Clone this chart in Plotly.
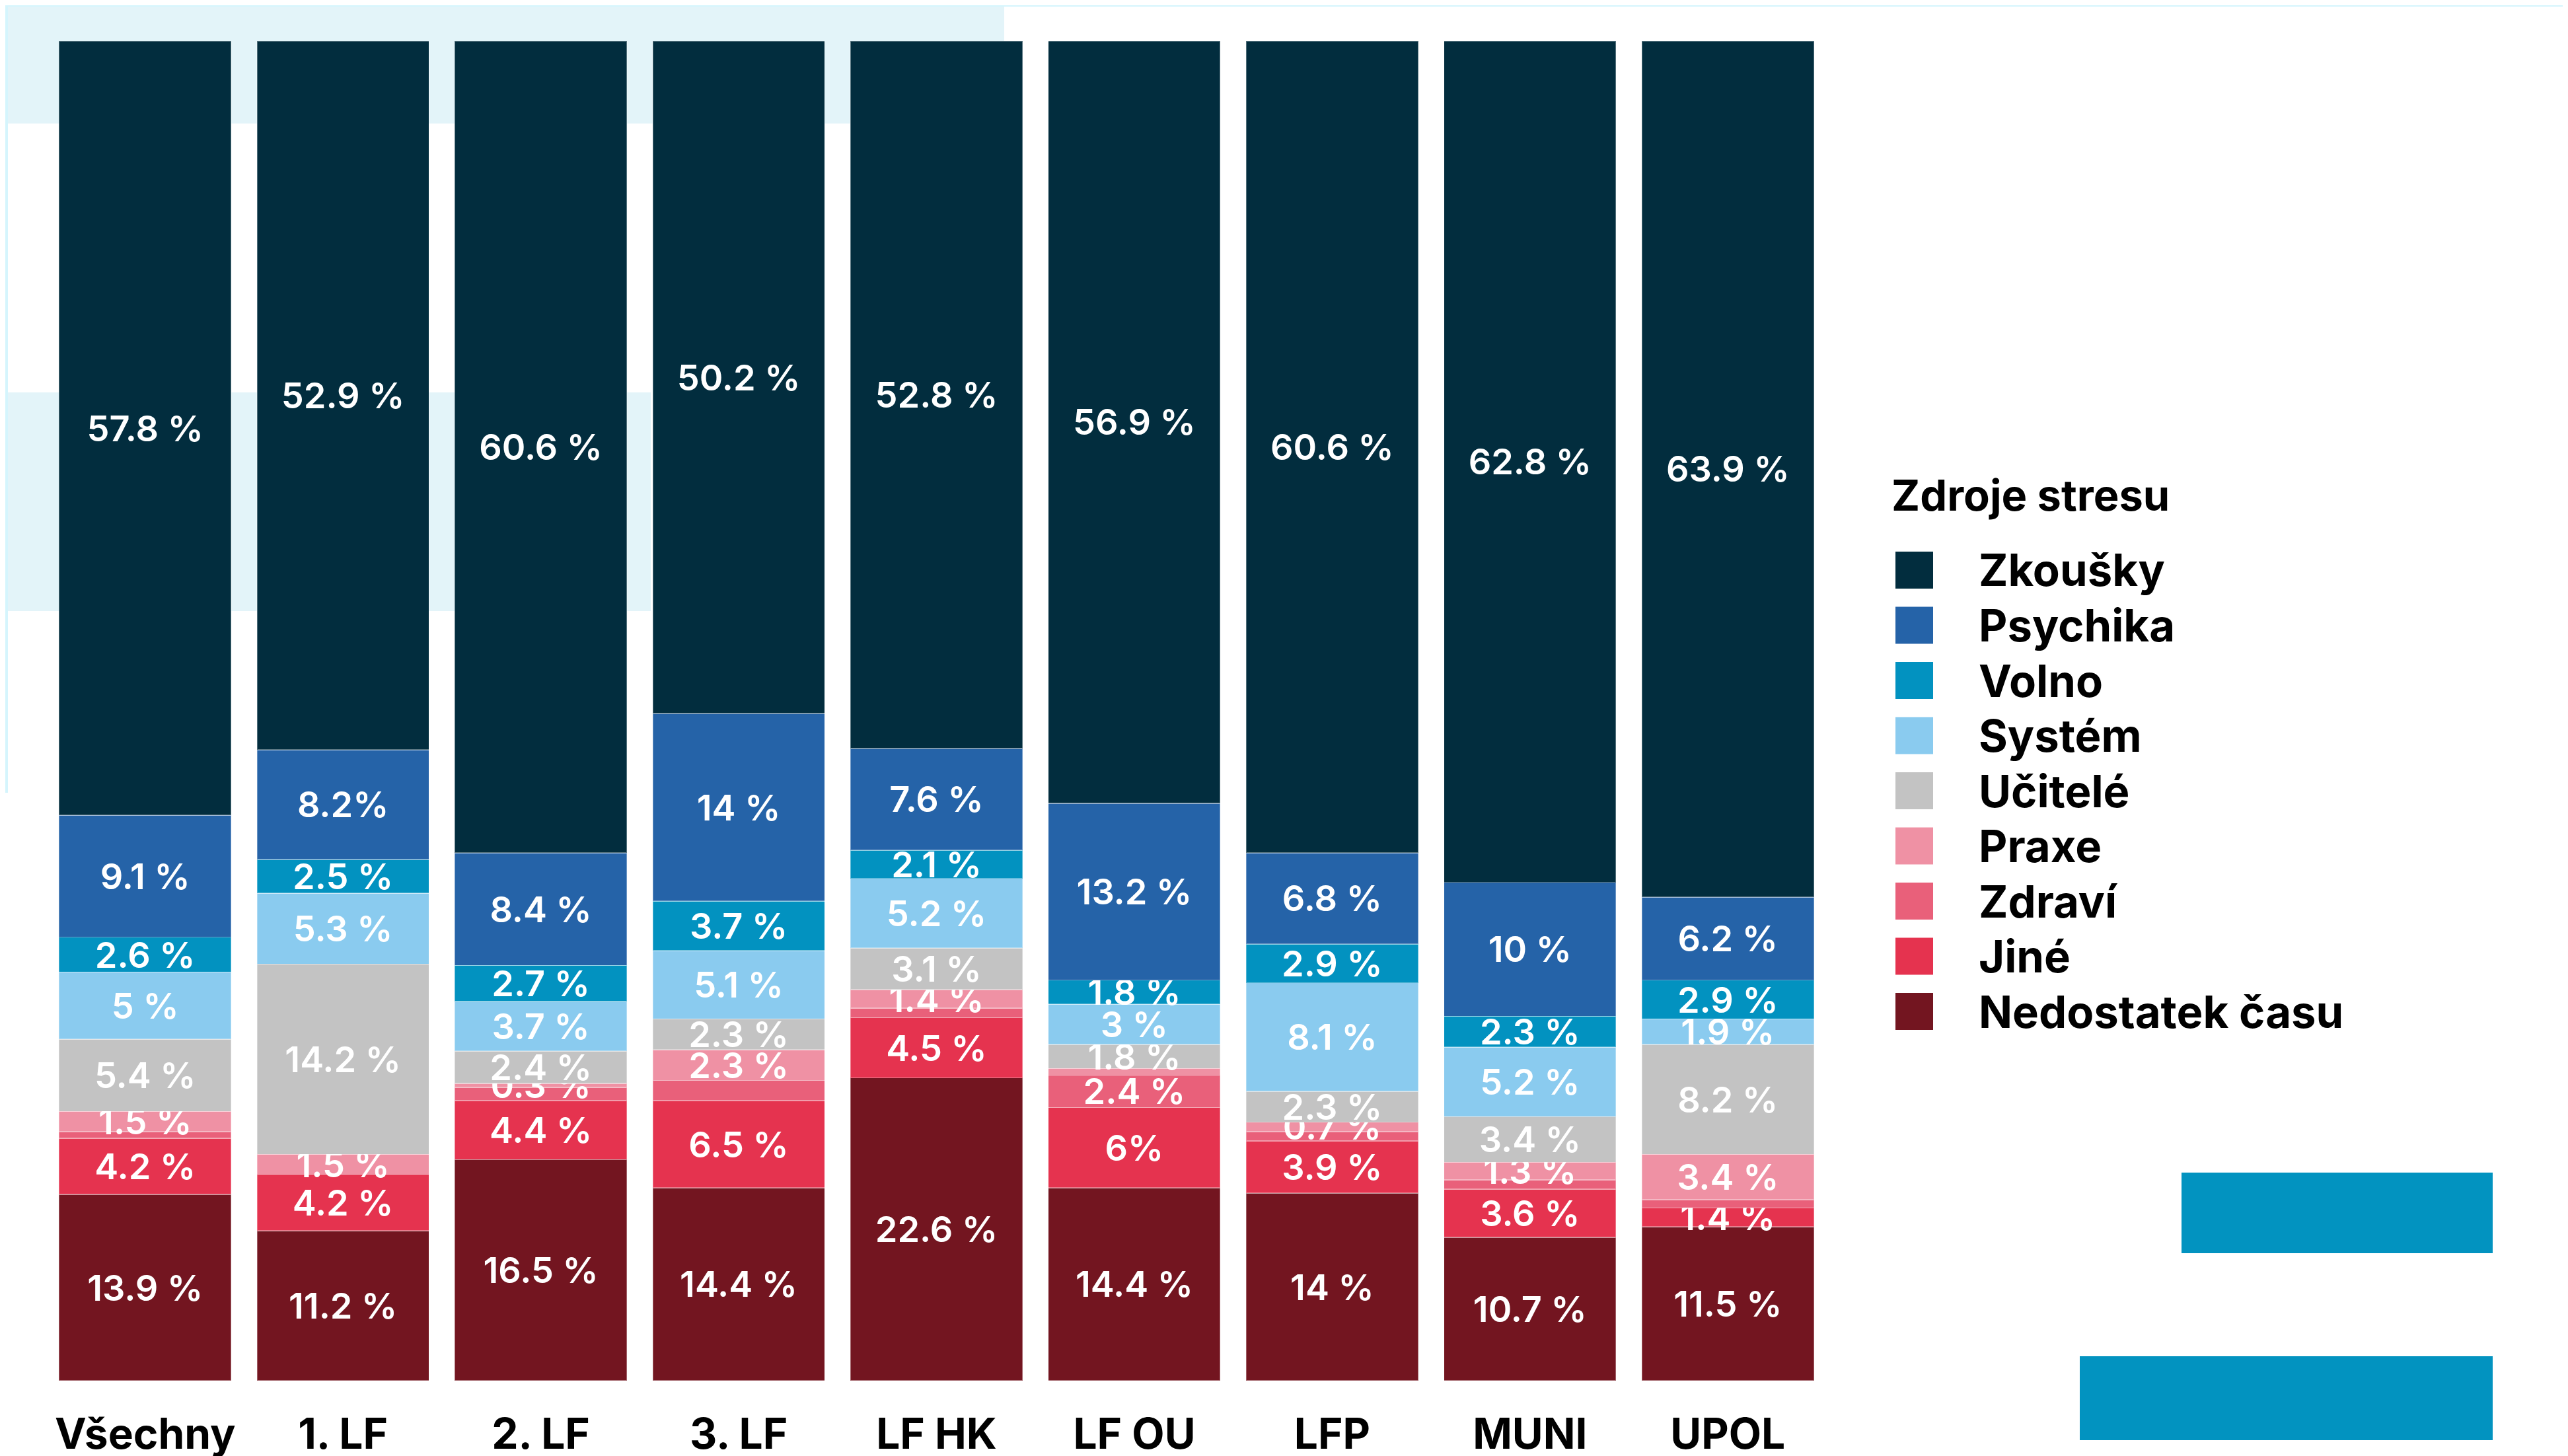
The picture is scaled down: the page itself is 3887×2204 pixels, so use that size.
import plotly.graph_objects as go

# Categories (faculties) and stress-source shares in %
categories = ["Všechny", "1. LF", "2. LF", "3. LF", "LF HK", "LF OU", "LFP", "MUNI", "UPOL"]

nedostatek = [13.9, 11.2, 16.5, 14.4, 22.6, 14.4, 14, 10.7, 11.5]
jine = [4.2, 4.2, 4.4, 6.5, 4.5, 6, 3.9, 3.6, 1.4]
zdravi = [0.5, 0, 1.0, 1.5, 0.7, 2.4, 0.7, 0.7, 0.6]
praxe = [1.5, 1.5, 0.3, 2.3, 1.4, 0.5, 0.7, 1.3, 3.4]
ucitele = [5.4, 14.2, 2.4, 2.3, 3.1, 1.8, 2.3, 3.4, 8.2]
system = [5, 5.3, 3.7, 5.1, 5.2, 3, 8.1, 5.2, 1.9]
volno = [2.6, 2.5, 2.7, 3.7, 2.1, 1.8, 2.9, 2.3, 2.9]
psychika = [9.1, 8.2, 8.4, 14, 7.6, 13.2, 6.8, 10, 6.2]
zkousky = [57.8, 52.9, 60.6, 50.2, 52.8, 56.9, 60.6, 62.8, 63.9]

# stacking order bottom -> top
series = [
    ("Nedostatek času", nedostatek, "#731520"),
    ("Jiné", jine, "#E5334F"),
    ("Zdraví", zdravi, "#E9607A"),
    ("Praxe", praxe, "#EF91A4"),
    ("Učitelé", ucitele, "#C3C3C3"),
    ("Systém", system, "#8ACBEF"),
    ("Volno", volno, "#0292C0"),
    ("Psychika", psychika, "#2563A8"),
    ("Zkoušky", zkousky, "#022D3E"),
]

# labels that are not printed in the original, or printed differently
hidden = {("Zdraví", c) for c in categories if c != "LF OU"} | {("Praxe", "LF OU")}
special = {("Psychika", "1. LF"): "8.2%", ("Jiné", "LF OU"): "6%"}

W, H = 3887, 2204
L, R, T, B = 62, 2757, 54, 2082
OFF = 8  # page body margin
FONT = "Inter"


def px(x):
    return (x - OFF - L) / (R - L)


def py(y):
    return (B - (y - OFF)) / (B - T)


fig = go.Figure()
for name, vals, color in series:
    text = []
    for c, v in zip(categories, vals):
        if (name, c) in hidden:
            text.append("")
        elif (name, c) in special:
            text.append(special[(name, c)])
        else:
            text.append(f"{v:g} %")
    fig.add_trace(go.Bar(
        x=categories, y=vals, name=name, text=text,
        textposition="inside", insidetextanchor="middle", textangle=0,
        textfont=dict(family=FONT, size=54, color="white", weight=600),
        marker=dict(color=color, line=dict(width=1.5, color="rgba(255,255,255,0.35)")),
        showlegend=False,
    ))

shapes = []
# background decorations
deco = [
    (0, 0, W, 10, "#D5F5FD"),
    (0, 0, 12, 1200, "#D5F5FD"),
    (12, 10, 1520, 187, "#E3F4F9"),
    (12, 594, 985, 925, "#E3F4F9"),
]
for x0, y0, x1, y1, col in deco:
    shapes.append(dict(type="rect", xref="paper", yref="paper", layer="below",
                       x0=px(x0), x1=px(x1), y0=py(y1), y1=py(y0),
                       fillcolor=col, line=dict(width=0)))
for x0, y0, x1, y1 in [(3302, 1775, 3773, 1897), (3148, 2053, 3773, 2180)]:
    shapes.append(dict(type="rect", xref="paper", yref="paper", layer="above",
                       x0=px(x0), x1=px(x1), y0=py(y1), y1=py(y0),
                       fillcolor="#0293C0", line=dict(width=0)))

# custom legend with large swatches
annotations = [dict(text="Zdroje stresu", xref="paper", yref="paper", x=px(2861), y=py(749),
                    xanchor="left", yanchor="middle", showarrow=False,
                    font=dict(family=FONT, size=65, color="black", weight=700))]
for i, (name, vals, color) in enumerate(reversed(series)):
    yc = 863 + i * 83.5
    shapes.append(dict(type="rect", xref="paper", yref="paper",
                       x0=px(2869), x1=px(2926), y0=py(yc + 28), y1=py(yc - 28),
                       fillcolor=color, line=dict(width=0)))
    annotations.append(dict(text=name, xref="paper", yref="paper", x=px(2993), y=py(yc),
                            xanchor="left", yanchor="middle", showarrow=False,
                            font=dict(family=FONT, size=67, color="black", weight=700)))

fig.update_layout(
    width=W, height=H,
    barmode="stack", barnorm="percent", bargap=0.13,
    margin=dict(l=L, r=W - R, t=T, b=H - B),
    paper_bgcolor="white", plot_bgcolor="rgba(0,0,0,0)",
    uniformtext=dict(minsize=54, mode="show"),
    shapes=shapes, annotations=annotations,
    xaxis=dict(showgrid=False, showline=False, ticks="", ticklabelstandoff=38, automargin=False,
               tickfont=dict(family=FONT, size=64, color="black", weight=700)),
    yaxis=dict(visible=False, range=[0, 100], automargin=False),
)

fig.write_html("out.html")
